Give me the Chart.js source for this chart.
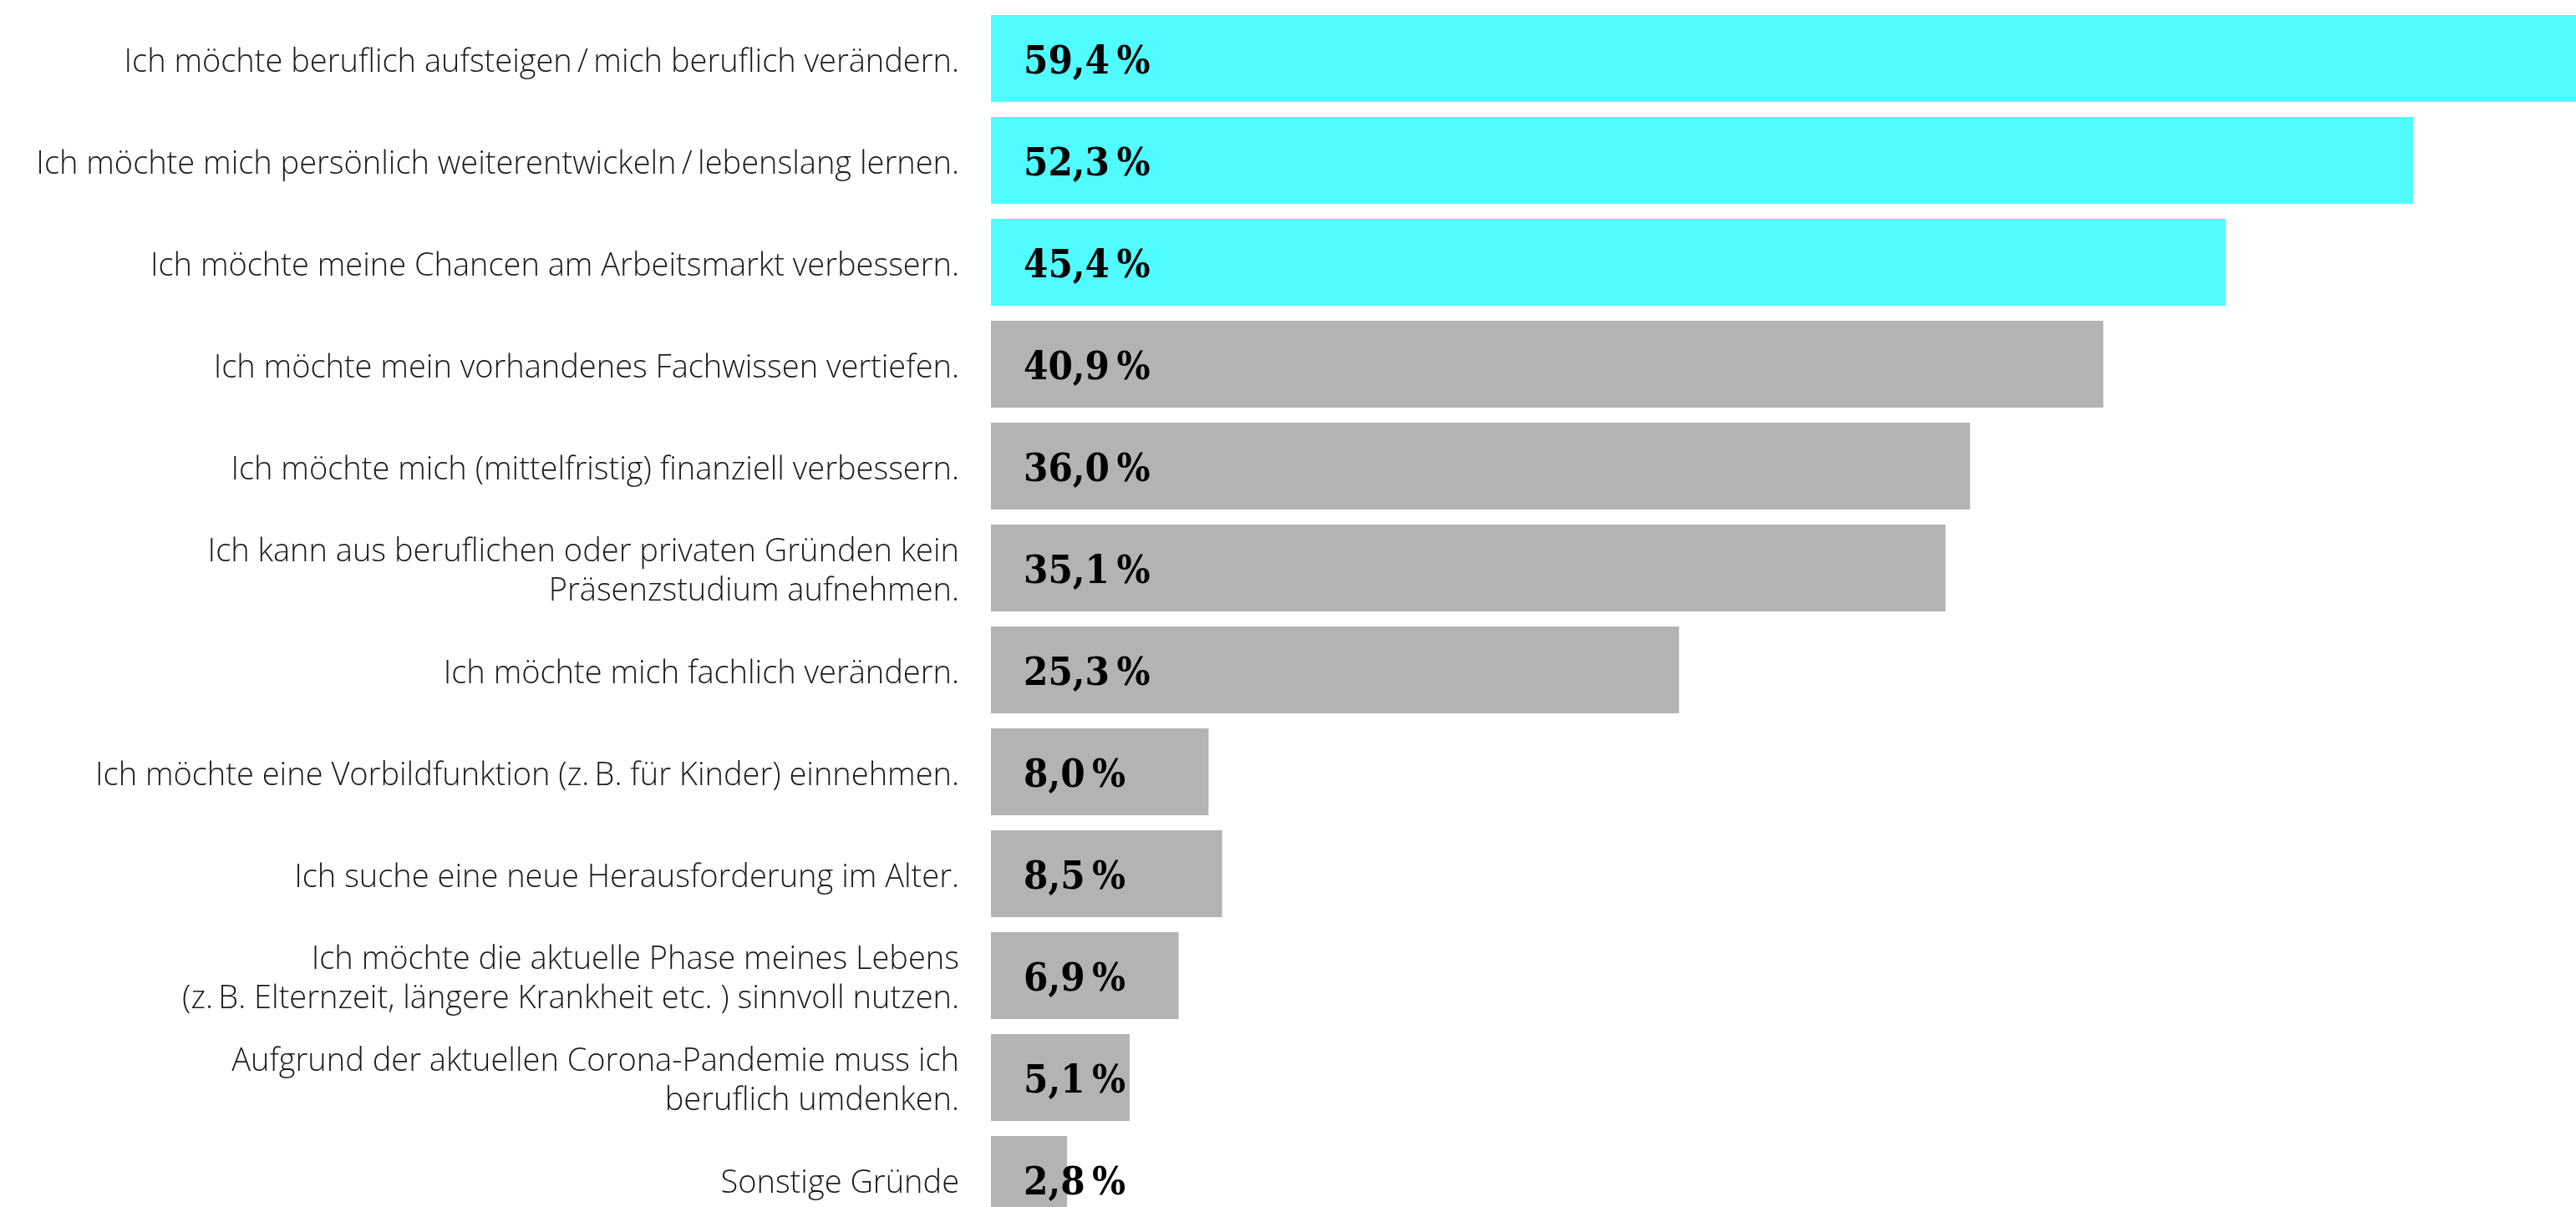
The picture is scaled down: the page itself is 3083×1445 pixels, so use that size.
<!DOCTYPE html>
<html>
<head>
<meta charset="utf-8">
<script src="https://cdn.jsdelivr.net/npm/chart.js@4/dist/chart.umd.min.js"></script>
<style>
html, body { margin: 0; padding: 0; background: #ffffff; overflow: hidden; width: 3083px; height: 1445px; }
#c { display: block; }
</style>
</head>
<body>
<canvas id="c" width="3083" height="1473"></canvas>
<script>
const categories = [
  "Ich möchte beruflich aufsteigen\u2009/\u2009mich beruflich verändern.",
  "Ich möchte mich persönlich weiterentwickeln\u2009/\u2009lebenslang lernen.",
  "Ich möchte meine Chancen am Arbeitsmarkt verbessern.",
  "Ich möchte mein vorhandenes Fachwissen vertiefen.",
  "Ich möchte mich (mittelfristig) finanziell verbessern.",
  ["Ich kann aus beruflichen oder privaten Gründen kein", "Präsenzstudium aufnehmen."],
  "Ich möchte mich fachlich verändern.",
  "Ich möchte eine Vorbildfunktion (z.\u2009B. für Kinder) einnehmen.",
  "Ich suche eine neue Herausforderung im Alter.",
  ["Ich möchte die aktuelle Phase meines Lebens", "(z.\u2009B. Elternzeit, längere Krankheit etc. ) sinnvoll nutzen."],
  ["Aufgrund der aktuellen Corona-Pandemie muss ich", "beruflich umdenken."],
  "Sonstige Gründe"
];
const values = [59.4, 52.3, 45.4, 40.9, 36.0, 35.1, 25.3, 8.0, 8.5, 6.9, 5.1, 2.8];
const highlightedCount = 3;

const CYAN = "#50FCFF";
const GREY = "#B3B3B3";

const valueLabels = {
  id: "valueLabels",
  afterDatasetsDraw(chart) {
    const ctx = chart.ctx;
    const meta = chart.getDatasetMeta(0);
    const left = chart.chartArea.left;
    ctx.save();
    ctx.font = 'bold 47px "DejaVu Serif Condensed", "Liberation Serif", serif';
    ctx.fillStyle = "#000000";
    ctx.textAlign = "left";
    ctx.textBaseline = "alphabetic";
    meta.data.forEach((bar, i) => {
      const v = chart.data.datasets[0].data[i];
      const txt = v.toFixed(1).replace(".", ",") + "\u2009%";
      ctx.fillText(txt, left + 39, bar.y + 18);
    });
    ctx.restore();
  }
};

new Chart(document.getElementById("c"), {
  type: "bar",
  data: {
    labels: categories,
    datasets: [{
      data: values,
      backgroundColor: values.map((v, i) => i < highlightedCount ? CYAN : GREY),
      borderWidth: 0,
      barPercentage: 1,
      categoryPercentage: 104 / 122
    }]
  },
  options: {
    indexAxis: "y",
    responsive: false,
    animation: false,
    events: [],
    layout: { padding: { top: 9, bottom: 0, left: 0, right: 0 } },
    plugins: {
      legend: { display: false },
      tooltip: { enabled: false },
      title: { display: false }
    },
    scales: {
      x: {
        display: false,
        min: 0,
        max: 58.28
      },
      y: {
        grid: { display: false, drawTicks: false },
        border: { display: false },
        ticks: {
          autoSkip: false,
          padding: 38,
          labelOffset: 5,
          color: "#1a1a1a",
          font: { family: "Open Sans", weight: 300, size: 38, lineHeight: 1.24 }
        },
        afterFit(scale) {
          scale.width = 1186;
          scale.paddingTop = 0;
          scale.paddingBottom = 0;
        }
      }
    }
  },
  plugins: [valueLabels]
});
</script>
</body>
</html>
